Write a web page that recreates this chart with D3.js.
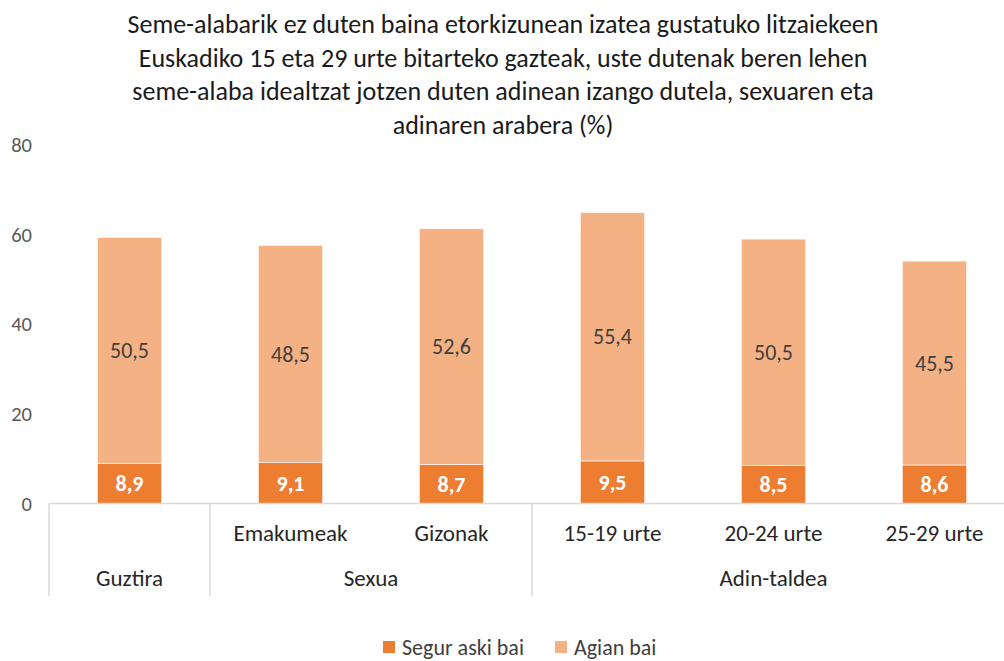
<!DOCTYPE html>
<html>
<head>
<meta charset="utf-8">
<script src="https://cdn.jsdelivr.net/npm/d3@7"></script>
<style>
  body { margin: 0; background: #fff; }
  svg { font-family: Carlito, Lato, "Open Sans", sans-serif; }
</style>
</head>
<body>
<div id="chart"></div>
<script>
// chart data
const titleLines = [
  "Seme-alabarik ez duten baina etorkizunean izatea gustatuko litzaiekeen",
  "Euskadiko 15 eta 29 urte bitarteko gazteak, uste dutenak beren lehen",
  "seme-alaba idealtzat jotzen duten adinean izango dutela, sexuaren eta",
  "adinaren arabera (%)"
];
const categories = ["", "Emakumeak", "Gizonak", "15-19 urte", "20-24 urte", "25-29 urte"];
const groupNames = ["Guztira", "Sexua", "Adin-taldea"];
const groupSizes = [1, 2, 3];
const seriesNames = ["Segur aski bai", "Agian bai"];
const segurValues = [8.9, 9.1, 8.7, 9.5, 8.5, 8.6];
const agianValues = [50.5, 48.5, 52.6, 55.4, 50.5, 45.5];
const yTicks = [0, 20, 40, 60, 80];

((() => {
  const width = 1004, height = 661;
  const colors = ["#ED7D31", "#F4B183"];

  const svg = d3.select("#chart").append("svg")
    .attr("width", width)
    .attr("height", height);

  // title
  svg.append("g").selectAll("text")
    .data(titleLines)
    .enter().append("text")
    .attr("x", 503)
    .attr("y", (d, i) => 33 + i * 33.7)
    .attr("text-anchor", "middle")
    .attr("font-size", 26)
    .attr("fill", "#1a1a1a")
    .text(d => d);

  const keys = categories.map((c, i) => "c" + i);
  const x = d3.scaleBand()
    .domain(keys)
    .range([49, 1015])
    .paddingInner(0.6)
    .paddingOuter(0.3);

  const y = d3.scaleLinear()
    .domain([0, 80])
    .range([503.5, 145]);

  // y tick labels
  svg.append("g").selectAll("text")
    .data(yTicks)
    .enter().append("text")
    .attr("x", 32)
    .attr("y", d => y(d))
    .attr("dy", "0.35em")
    .attr("text-anchor", "end")
    .attr("font-size", 20.5)
    .attr("fill", "#595959")
    .text(d => d);

  // stacked bars
  const rows = categories.map((c, i) => ({ key: keys[i], segur: segurValues[i], agian: agianValues[i] }));
  const stack = d3.stack().keys(["segur", "agian"])(rows);

  const layers = svg.append("g").selectAll("g")
    .data(stack)
    .enter().append("g")
    .attr("fill", (d, i) => colors[i]);

  layers.selectAll("rect")
    .data(d => d)
    .enter().append("rect")
    .attr("x", d => x(d.data.key))
    .attr("width", x.bandwidth())
    .attr("y", d => y(d[1]))
    .attr("height", d => y(d[0]) - y(d[1]))
    .attr("stroke", "#fff")
    .attr("stroke-width", 0.6);

  // value labels
  layers.selectAll("text")
    .data((d, i) => d.map(p => ({ p, i })))
    .enter().append("text")
    .attr("x", d => x(d.p.data.key) + x.bandwidth() / 2)
    .attr("y", d => y((d.p[0] + d.p[1]) / 2))
    .attr("dy", "0.35em")
    .attr("text-anchor", "middle")
    .attr("font-size", 22)
    .attr("font-weight", d => d.i === 0 ? "bold" : "normal")
    .attr("fill", d => d.i === 0 ? "#ffffff" : "#404040")
    .text(d => d3.format(".1f")(d.p[1] - d.p[0]).replace(".", ","));

  // category axis
  const axisG = svg.append("g").attr("stroke", "#d9d9d9").attr("stroke-width", 1.5);
  axisG.append("line")
    .attr("x1", x.range()[0]).attr("x2", x.range()[1])
    .attr("y1", y(0)).attr("y2", y(0));

  let bounds = [0];
  groupSizes.forEach(s => bounds.push(bounds[bounds.length - 1] + s));
  axisG.selectAll("line.sep")
    .data(bounds)
    .enter().append("line")
    .attr("class", "sep")
    .attr("x1", b => x.range()[0] + b * x.step())
    .attr("x2", b => x.range()[0] + b * x.step())
    .attr("y1", y(0))
    .attr("y2", 596);

  // inner labels
  svg.append("g").selectAll("text")
    .data(categories)
    .enter().append("text")
    .attr("x", (d, i) => x(keys[i]) + x.bandwidth() / 2)
    .attr("y", 533)
    .attr("dy", "0.35em")
    .attr("text-anchor", "middle")
    .attr("font-size", 23)
    .attr("fill", "#262626")
    .text(d => d);

  // group labels
  svg.append("g").selectAll("text")
    .data(groupNames)
    .enter().append("text")
    .attr("x", (d, i) => x.range()[0] + (bounds[i] + bounds[i + 1]) / 2 * x.step())
    .attr("y", 578)
    .attr("dy", "0.35em")
    .attr("text-anchor", "middle")
    .attr("font-size", 23)
    .attr("fill", "#262626")
    .text(d => d);

  // legend
  const legendX = [383, 555];
  const legend = svg.append("g").selectAll("g")
    .data(seriesNames)
    .enter().append("g")
    .attr("transform", (d, i) => "translate(" + legendX[i] + ",647)");

  legend.append("rect")
    .attr("x", 0).attr("y", -6)
    .attr("width", 12).attr("height", 12)
    .attr("fill", (d, i) => colors[i]);

  legend.append("text")
    .attr("x", 19)
    .attr("dy", "0.35em")
    .attr("font-size", 22)
    .attr("fill", "#404040")
    .text(d => d);
})());
</script>
</body>
</html>
